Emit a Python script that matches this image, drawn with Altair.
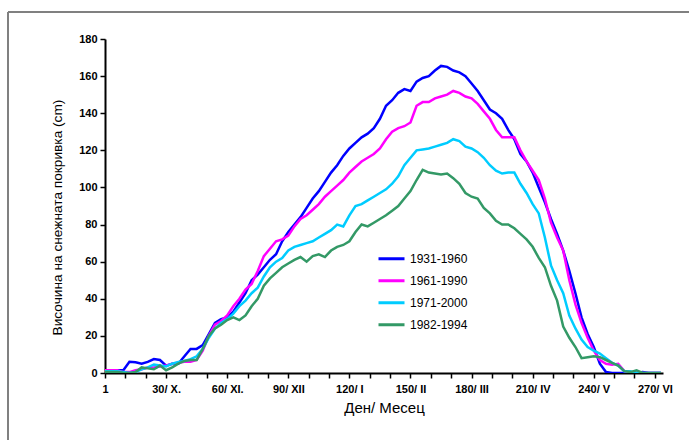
import altair as alt
import pandas as pd

# ---- data ----
days = list(range(0, 274, 3))  # 0..273

s1931 = [1.5, 1.5, 1.5, 1.5, 6, 5.8, 5, 6, 7.5, 7, 4, 5, 5, 9, 13, 13, 15, 21, 27, 29,
         30, 33, 38, 43, 50, 53, 57, 61, 64, 71, 76, 80, 84, 89, 94, 98, 103, 108, 112, 117,
         121, 124, 127, 129, 132, 137, 144, 147, 151, 153, 152, 157, 159, 160, 163, 165.5, 165, 163, 162, 160,
         156, 152, 147, 142, 140, 137, 131, 126, 118, 114, 108, 100, 92, 83, 75, 66, 55, 43, 30, 21,
         14, 5, 0.5, 0, 0, 0, 0, 0, 0.5, 0, 0, 0]
s1961 = [1.5, 1.5, 1.5, 0.5, 0.5, 1.5, 2, 3, 3, 3.5, 4, 5, 5.5, 6, 6, 7, 12, 20, 26, 28,
         31, 36, 40, 45, 48, 55, 63, 67, 71, 72, 74, 79, 83, 85, 88, 91, 95, 98, 101, 104,
         108, 111, 114, 116, 118, 121, 126, 130, 132, 133, 135, 144, 146, 146, 148, 149, 150, 152, 151, 149,
         148, 145, 141, 137, 131, 127, 127, 127, 120, 114, 109, 104, 94, 81, 73, 66, 50, 37, 27, 19,
         12, 7, 5, 4.5, 5, 1, 0, 0, 0, 0, 0, 0]
s1971 = [1, 1, 1, 0.5, 0, 0.5, 2, 3, 4.5, 4, 3.5, 5, 6, 6.5, 7.5, 9, 13, 19, 24, 27,
         29, 32, 36, 39, 43, 46, 52, 57, 60, 62, 66, 68, 69, 70, 71, 73, 75, 77, 80, 79,
         85, 90, 91, 93, 95, 97, 99, 102, 106, 112, 116, 120, 120.5, 121, 122, 123, 124, 126, 125, 122,
         121, 119, 116, 112, 109, 107.5, 108, 108, 102, 97, 91, 86, 73, 58, 50, 43, 31, 24, 18, 14,
         12, 10.5, 8, 5.5, 4, 1, 1, 0, 0, 0, 0, 0]
s1982 = [0.5, 0.5, 0.5, 0.2, 0, 0.5, 3, 2.5, 2, 4, 1.5, 3, 5, 6.5, 7, 7, 13, 20, 24, 26,
         28.5, 30, 28.5, 31, 36, 40, 47, 51, 54, 57, 59, 61, 62.5, 60, 63, 64, 62.5, 66, 68, 69,
         71, 76, 80, 79, 81, 83, 85, 87.5, 90, 94, 98, 104, 109.5, 108, 107.5, 107, 107.5, 105, 102, 97,
         95, 94, 89, 86, 82, 80, 80, 78, 75, 72, 68, 62, 57, 47, 39, 25, 19, 14, 8, 8.5,
         9, 8.5, 7, 5.5, 4, 1, 0.5, 1.5, 0, 0, 0, 0]

series_names = ["1931-1960", "1961-1990", "1971-2000", "1982-1994"]
series_colors = ["#0000FF", "#FF00FF", "#00CCFF", "#339966"]

tick_days = [0, 30, 60, 90, 120, 150, 180, 210, 240, 270]
tick_labels = ["1", "30/ X.", "60/ XI.", "90/ XII", "120/ I", "150/ II",
               "180/ III", "210/ IV", "240/ V", "270/ VI"]
y_ticks = [0, 20, 40, 60, 80, 100, 120, 140, 160, 180]

rows = []
for name, vals in zip(series_names, [s1931, s1961, s1971, s1982]):
    for d, v in zip(days, vals):
        rows.append({"day": d, "value": v, "series": name})
df = pd.DataFrame(rows)

label_expr = " : ".join(f"datum.value == {d} ? '{l}'" for d, l in zip(tick_days, tick_labels)) + " : ''"

FONT = "Liberation Sans"
W, H = 558, 334

lines = alt.Chart(df).mark_line(strokeWidth=2.5, clip=True).encode(
    x=alt.X("day:Q",
            scale=alt.Scale(domain=[0, 274], nice=False, zero=False),
            axis=alt.Axis(values=list(range(0, 271, 10)), labelExpr=label_expr,
                          title="Ден/ Месец", titleFontSize=15, grid=False, labelFlush=False,
                          labelOverlap=False, labelPadding=5, titlePadding=6)),
    y=alt.Y("value:Q",
            scale=alt.Scale(domain=[0, 180], nice=False),
            axis=alt.Axis(values=y_ticks, title="Височина на снежната покривка (cm)",
                          titleFontSize=13.7, titleY=178, grid=False, labelPadding=3,
                          titlePadding=14)),
    color=alt.Color("series:N",
                    scale=alt.Scale(domain=series_names, range=series_colors),
                    legend=alt.Legend(title=None, orient="none", legendX=272, legendY=209,
                                      symbolType="stroke", symbolSize=676,
                                      symbolStrokeWidth=3, labelFontSize=12,
                                      labelFont=FONT, labelColor="black",
                                      labelOffset=4, rowPadding=0, clipHeight=21.3)),
    order="day:Q",
)

frame_df = pd.DataFrame({"k": [0]})
frame_top = alt.Chart(frame_df).mark_rule(color="#808080", strokeWidth=2).encode(
    x=alt.value(-97), x2=alt.value(620), y=alt.value(-27))
frame_left = alt.Chart(frame_df).mark_rule(color="#808080", strokeWidth=2).encode(
    x=alt.value(-97), y=alt.value(-27), y2=alt.value(420))

chart = alt.layer(frame_top, frame_left, lines).properties(
    width=W, height=H,
    background="white",
    autosize=alt.AutoSizeParams(type="none"),
    padding={"left": 105, "top": 39, "right": 26, "bottom": 67},
).configure_view(stroke=None).configure_axis(
    domainColor="black", domainWidth=2, tickColor="black", tickWidth=1.5, tickSize=5,
    labelFont=FONT, labelFontSize=11, labelFontWeight="bold", labelColor="black",
    titleFont=FONT, titleFontWeight="normal", titleColor="black",
)

chart.save("out.html", embed_options={"renderer": "svg", "actions": False})
